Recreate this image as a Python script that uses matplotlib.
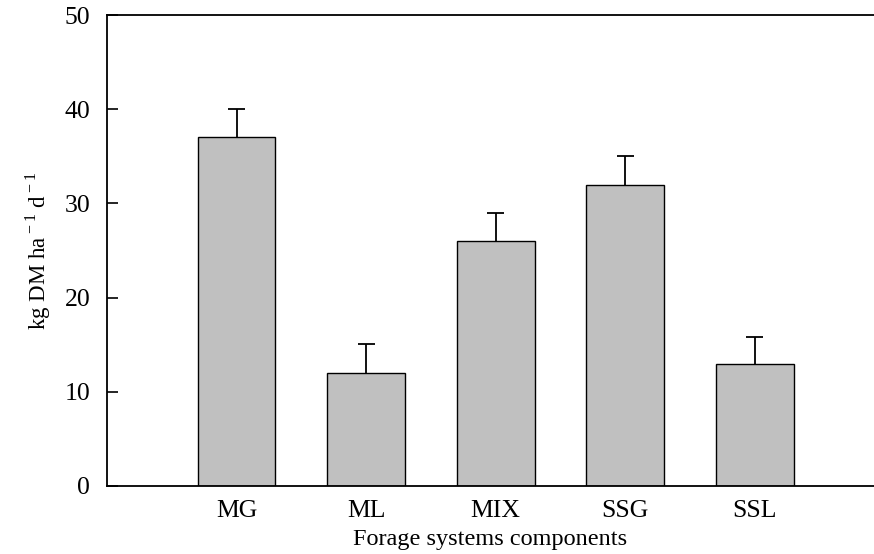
import numpy as np
import matplotlib.pyplot as plt

plt.rcParams['font.family'] = ['Liberation Serif', 'DejaVu Serif']
plt.rcParams['mathtext.fontset'] = 'custom'
plt.rcParams['mathtext.rm'] = 'Liberation Serif'

components = ["MG", "ML", "MIX", "SSG", "SSL"]
growth = [37, 12, 26, 32, 13]
err = [3.0, 3.1, 3.0, 3.0, 2.8]

fig = plt.figure(figsize=(8.74, 5.54), dpi=100)
ax = fig.add_axes([107 / 874, 1 - 486 / 554, 1 - 107 / 874, (486 - 15) / 554])

x = np.arange(len(components))
ax.bar(x, growth, width=0.6, color="#c0c0c0", edgecolor="black", linewidth=1.0)
# upper error bars only
top = np.array(growth) + np.array(err)
ax.vlines(x, growth, top, color="black", linewidth=1.3)
ax.hlines(top, x - 0.065, x + 0.065, color="black", linewidth=1.3)

ax.set_xlim(-1, 4.92)
ax.set_ylim(0, 50)
ax.set_yticks([0, 10, 20, 30, 40, 50])
ax.set_xticks(x)
ax.set_xticklabels(components)
ax.tick_params(axis="y", direction="in", length=8, width=1.2, labelsize=18.5, pad=12)
ax.tick_params(axis="x", length=0, labelsize=18.5, pad=10)
ax.spines["right"].set_visible(False)
for s in ["left", "bottom", "top"]:
    ax.spines[s].set_linewidth(1.3)

ax.set_xlabel("Forage systems components", fontsize=17.5, labelpad=5)
ax.set_ylabel("kg DM ha$^{\\rm -1}$ d$^{\\rm -1}$", fontsize=16.5, labelpad=8)

fig.savefig("out.png", dpi=100)
